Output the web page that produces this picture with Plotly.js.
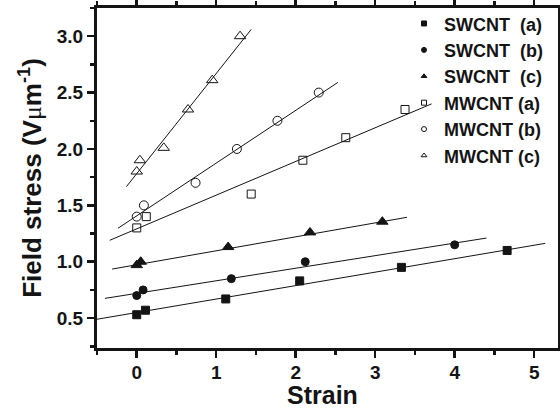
<!DOCTYPE html>
<html>
<head>
<meta charset="utf-8">
<script src="https://cdn.plot.ly/plotly-3.0.1.min.js"></script>
<style>html,body{margin:0;padding:0;background:#fff;}#chart{width:560px;height:410px;}</style>
</head>
<body>
<div id="chart"></div>
<script>
// Measured data points
const swA_x = [0, 0.11, 1.12, 2.05, 3.33, 4.66];
const swA_y = [0.53, 0.57, 0.67, 0.83, 0.95, 1.10];
const swB_x = [0, 0.08, 1.19, 2.12, 4.0];
const swB_y = [0.70, 0.75, 0.85, 1.00, 1.15];
const swC_x = [0, 0.05, 1.15, 2.18, 3.09];
const swC_y = [0.97, 1.00, 1.13, 1.26, 1.355];
const mwA_x = [0, 0.12, 1.44, 2.09, 2.63, 3.375];
const mwA_y = [1.30, 1.40, 1.60, 1.90, 2.10, 2.35];
const mwB_x = [0, 0.09, 0.74, 1.26, 1.77, 2.29];
const mwB_y = [1.40, 1.50, 1.70, 2.00, 2.25, 2.50];
const mwC_x = [0, 0.04, 0.34, 0.645, 0.95, 1.30];
const mwC_y = [1.80, 1.90, 2.01, 2.35, 2.61, 3.00];

// Fitted line end points
const fitA_sw_x = [-0.5, 5.14], fitA_sw_y = [0.49, 1.163];
const fitB_sw_x = [-0.4, 4.40], fitB_sw_y = [0.675, 1.21];
const fitC_sw_x = [-0.31, 3.40], fitC_sw_y = [0.935, 1.394];
const fitA_mw_x = [-0.34, 3.71], fitA_mw_y = [1.19, 2.40];
const fitB_mw_x = [-0.235, 2.53], fitB_mw_y = [1.297, 2.59];
const fitC_mw_x = [-0.13, 1.44], fitC_mw_y = [1.666, 3.06];

const seriesNames = ['SWCNT\u00a0\u00a0(a)', 'SWCNT\u00a0\u00a0(b)', 'SWCNT\u00a0\u00a0(c)', 'MWCNT (a)', 'MWCNT (b)', 'MWCNT (c)'];
const xTickVals = [0, 1, 2, 3, 4, 5];
const xTitle = 'Strain';

const K = '#141414';
const series = [
  {x: swA_x, y: swA_y, fx: fitA_sw_x, fy: fitA_sw_y, sym: 'square', size: 8},
  {x: swB_x, y: swB_y, fx: fitB_sw_x, fy: fitB_sw_y, sym: 'circle', size: 8},
  {x: swC_x, y: swC_y, fx: fitC_sw_x, fy: fitC_sw_y, sym: 'triangle-up', size: 10},
  {x: mwA_x, y: mwA_y, fx: fitA_mw_x, fy: fitA_mw_y, sym: 'square-open', size: 8},
  {x: mwB_x, y: mwB_y, fx: fitB_mw_x, fy: fitB_mw_y, sym: 'circle-open', size: 9},
  {x: mwC_x, y: mwC_y, fx: fitC_mw_x, fy: fitC_mw_y, sym: 'triangle-up-open', size: 10}
];

const traces = [];
series.forEach((s) => {
  traces.push({x: s.fx, y: s.fy, mode: 'lines', line: {color: K, width: 1}, showlegend: false, hoverinfo: 'skip'});
});
series.forEach((s, i) => {
  traces.push({x: s.x, y: s.y, mode: 'markers', name: seriesNames[i], showlegend: false,
    marker: {symbol: s.sym, size: s.size, color: K, line: {color: K, width: 1}}});
});
// Legend entries with small markers
series.forEach((s, i) => {
  traces.push({x: [null], y: [null], mode: 'markers', name: seriesNames[i],
    marker: {symbol: s.sym, size: 5, color: K, line: {color: K, width: 1}}});
});

const axisFont = {family: 'Liberation Sans, Arial, sans-serif', size: 19, color: K, weight: 'bold'};
const layout = {
  width: 560, height: 410,
  margin: {l: 97, r: 2, t: 8, b: 62},
  paper_bgcolor: '#fff', plot_bgcolor: '#fff',
  showlegend: true,
  legend: {x: 0.666, xanchor: 'left', y: 1.008, yanchor: 'top', bgcolor: 'rgba(0,0,0,0)',
    font: {family: 'Liberation Sans, Arial, sans-serif', size: 18, color: K, weight: 'bold'},
    tracegroupgap: 0, itemsizing: 'trace'},
  xaxis: {
    range: [-0.5, 5.3], tickvals: xTickVals, ticktext: xTickVals.map(String),
    showgrid: false, zeroline: false, showline: true, linewidth: 3, linecolor: K, mirror: 'allticks',
    ticks: 'outside', ticklen: 7, tickwidth: 2.5, tickcolor: K, tickfont: axisFont, ticklabelstandoff: -2,
    minor: {dtick: 0.5, tick0: 0, ticks: 'outside', ticklen: 4, tickwidth: 2.5, tickcolor: K, showgrid: false}
  },
  yaxis: {
    range: [0.235, 3.25], tick0: 0.5, dtick: 0.5, tickformat: '.1f',
    showgrid: false, zeroline: false, showline: true, linewidth: 3, linecolor: K, mirror: 'allticks',
    ticks: 'outside', ticklen: 7, tickwidth: 2.5, tickcolor: K, tickfont: axisFont,
    minor: {dtick: 0.25, tick0: 0.25, ticks: 'outside', ticklen: 4, tickwidth: 2.5, tickcolor: K, showgrid: false},
    title: {text: 'Field stress (V<span style="font-family:Liberation Serif;font-weight:normal">μ</span>m<sup>-1</sup>)',
      font: {family: 'Liberation Sans, Arial, sans-serif', size: 26, color: K, weight: 'bold'}, standoff: 8}
  },
  annotations: [{
    text: xTitle, xref: 'paper', yref: 'paper', x: 0.49, y: -0.1397, xanchor: 'center', yanchor: 'middle',
    showarrow: false, font: {family: 'Liberation Sans, Arial, sans-serif', size: 25, color: K, weight: 'bold'}
  }]
};

Plotly.newPlot('chart', traces, layout, {displayModeBar: false, staticPlot: true});
</script>
</body>
</html>
